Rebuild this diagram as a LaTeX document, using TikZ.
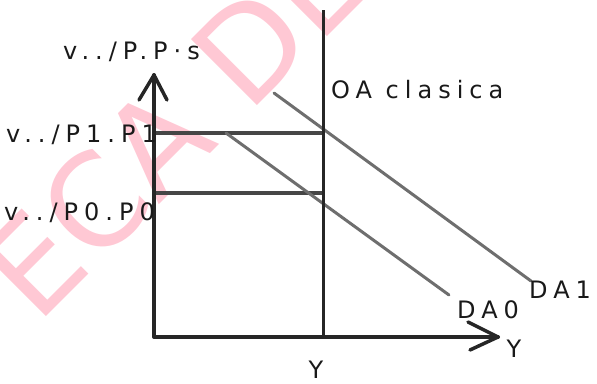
\documentclass[tikz,border=0pt]{standalone}
\usepackage{fontspec}
\newfontfamily\lblfont{DejaVu Sans}[LetterSpace=25]
\newfontfamily\wmfont{DejaVu Sans}
\definecolor{wmpink}{RGB}{255,200,212}
\definecolor{hlinecol}{RGB}{70,70,70}
\definecolor{dacol}{RGB}{110,110,110}
\tikzset{
  lbl/.style={inner sep=0pt, font=\lblfont\fontsize{24}{28}\selectfont, text=black!90},
  axisline/.style={line width=4pt, black!85, line cap=round, line join=round},
  oaline/.style={line width=3pt, black!85},
  pline/.style={line width=3.5pt, hlinecol},
  dastyle/.style={line width=3pt, dacol, line cap=round},
}
\begin{document}
\begin{tikzpicture}[x=1pt,y=-1pt]
\useasboundingbox (0,0) rectangle (597,383);
% watermark
\node[text=wmpink, rotate=45, inner sep=0pt, font=\wmfont\fontsize{128}{136}\selectfont] (wm) at (174,124) {ECA DE};
% coordinates
\coordinate (O) at (154,337);
\coordinate (ytip) at (154,75);
\coordinate (yarmL) at (139,100);
\coordinate (yarmR) at (167,100);
\coordinate (xtip) at (498,337);
\coordinate (xarmU) at (468,322);
\coordinate (xarmD) at (470,350);
\coordinate (oatop) at (323,10);
\coordinate (oabot) at (323,337);
\coordinate (p1l) at (154,133);
\coordinate (p1r) at (323,133);
\coordinate (p0l) at (154,193);
\coordinate (p0r) at (323,193);
\coordinate (da0a) at (226,133);
\coordinate (da0b) at (449,295);
\coordinate (da1a) at (274,93);
\coordinate (da1b) at (531,281);
% lines
\draw[pline] (p1l) -- (p1r);
\draw[pline] (p0l) -- (p0r);
\draw[dastyle] (da0a) -- (da0b);
\draw[dastyle] (da1a) -- (da1b);
\draw[oaline] (oatop) -- (oabot);
\draw[axisline] (ytip) -- (O) -- (xtip);
\draw[axisline, line width=3.5pt] (yarmL) -- (ytip) -- (yarmR);
\draw[axisline, line width=3.5pt] (xarmU) -- (xtip) -- (xarmD);
% labels
\node[lbl, anchor=west] (ylab) at (63,52) {v../P.P·s};
\node[lbl, anchor=east] (p1lab) at (157,135) {v../P1.P1};
\node[lbl, anchor=east] (p0lab) at (155,213) {v../P0.P0};
\node[lbl, anchor=west] (oalab) at (331,90) {OA clasica};
\node[lbl, anchor=west] (da0lab) at (457,310) {DA0};
\node[lbl, anchor=west] (da1lab) at (529,290) {DA1};
\node[lbl] (xlab) at (514,349) {Y};
\node[lbl] (ylabb) at (316,370) {Y};
\end{tikzpicture}
\end{document}
